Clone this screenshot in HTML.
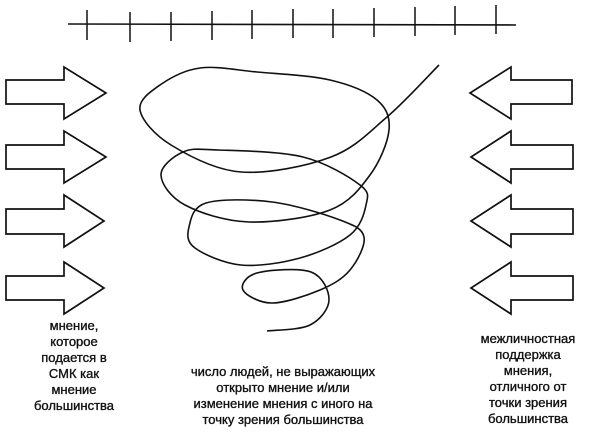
<!DOCTYPE html>
<html><head><meta charset="utf-8"><style>
html,body{margin:0;padding:0;background:#fff;}
body{width:604px;height:440px;position:relative;overflow:hidden;font-family:"Liberation Sans",Arial,sans-serif;}
.t{position:absolute;text-align:center;font-size:13px;line-height:16px;color:#111;-webkit-text-stroke:0.35px #111;white-space:nowrap;}
</style></head><body>
<svg width="604" height="440" style="position:absolute;left:0;top:0" fill="none" stroke="#111" stroke-width="1.6">
<line x1="68" y1="24" x2="516" y2="25"/>
<g stroke-width="1.5">
<line x1="87" y1="10" x2="87" y2="40"/><line x1="130" y1="12" x2="130" y2="42"/><line x1="171" y1="12" x2="171" y2="41"/><line x1="212" y1="11" x2="212" y2="40"/><line x1="252" y1="10" x2="252" y2="39"/><line x1="293" y1="9" x2="293" y2="38"/><line x1="333" y1="9" x2="333" y2="38"/><line x1="374" y1="8" x2="374" y2="37"/><line x1="415" y1="7" x2="415" y2="36"/><line x1="455" y1="6" x2="455" y2="35"/><line x1="496" y1="5" x2="496" y2="34"/>
</g>
<g stroke-width="1.7" fill="#fff">
<polygon points="6,80 64,80 64,67 106,93 64,119 64,104 6,104"/>
<polygon points="6,145 64,145 64,131 106,157 64,183 64,169 6,169"/>
<polygon points="6,209 64,209 64,195 104,221 64,247 64,234 6,234"/>
<polygon points="6,276 64,276 64,262 104,288 64,314 64,300 6,300"/>
<polygon points="572,80 511,80 511,67 470,93 511,119 511,104 572,104"/>
<polygon points="573,145 511,145 511,131 471,157 511,183 511,169 573,169"/>
<polygon points="573,209 511,209 511,195 471,221 511,247 511,234 573,234"/>
<polygon points="573,276 511,276 511,262 471,288 511,314 511,300 573,300"/>
</g>
<path id="sp" stroke-width="1.6" d="M439,65 L387,117 L331,157 L241,172 L171,145 L140,110 L160,85 L200,68 L257,72 L330,80 L377,100 L389,130 L370,175 L330,210 L249,222 L185,205 L161,175 L183,152 L218,150 L303,157 L360,185 L366,205 L350,235 L300,258 L241,265 L195,248 L189,227 L206,203 L272,202 L340,220 L364,237 L350,270 L320,290 L272,303 L243,290 L257,273 L311,272 L329,300 L310,325 L267,331"/>
</svg>
<div class="t" style="left:24px;width:100px;top:318px;">мнение,<br>которое<br>подается в<br>СМК как<br>мнение<br>большинства</div>
<div class="t" style="left:183px;width:200px;top:364px;">число людей, не выражающих<br>открыто мнение и/или<br>изменение мнения с иного на<br>точку зрения большинства</div>
<div class="t" style="left:468px;width:120px;top:331px;">межличностная<br>поддержка<br>мнения,<br>отличного от<br>точки зрения<br>большинства</div>
<script>
(function(){
var p=[[439,65],[387,117],[331,157],[241,172],[171,145],[140,110],[160,85],[200,68],[257,72],[330,80],[377,100],[389,130],[370,175],[330,210],[249,222],[185,205],[161,175],[183,152],[218,150],[303,157],[360,185],[366,205],[350,235],[300,258],[241,265],[195,248],[189,227],[206,203],[272,202],[340,220],[364,237],[350,270],[320,290],[272,303],[243,290],[257,273],[311,272],[329,300],[310,325],[267,331]];
var d="M"+p[0][0]+","+p[0][1];
for(var i=0;i<p.length-1;i++){
var a=p[Math.max(i-1,0)],b=p[i],c=p[i+1],e=p[Math.min(i+2,p.length-1)];
var c1=[b[0]+(c[0]-a[0])/6,b[1]+(c[1]-a[1])/6],c2=[c[0]-(e[0]-b[0])/6,c[1]-(e[1]-b[1])/6];
d+=" C"+c1[0].toFixed(1)+","+c1[1].toFixed(1)+" "+c2[0].toFixed(1)+","+c2[1].toFixed(1)+" "+c[0]+","+c[1];
}
document.getElementById("sp").setAttribute("d",d);
})();
</script>
</body></html>
